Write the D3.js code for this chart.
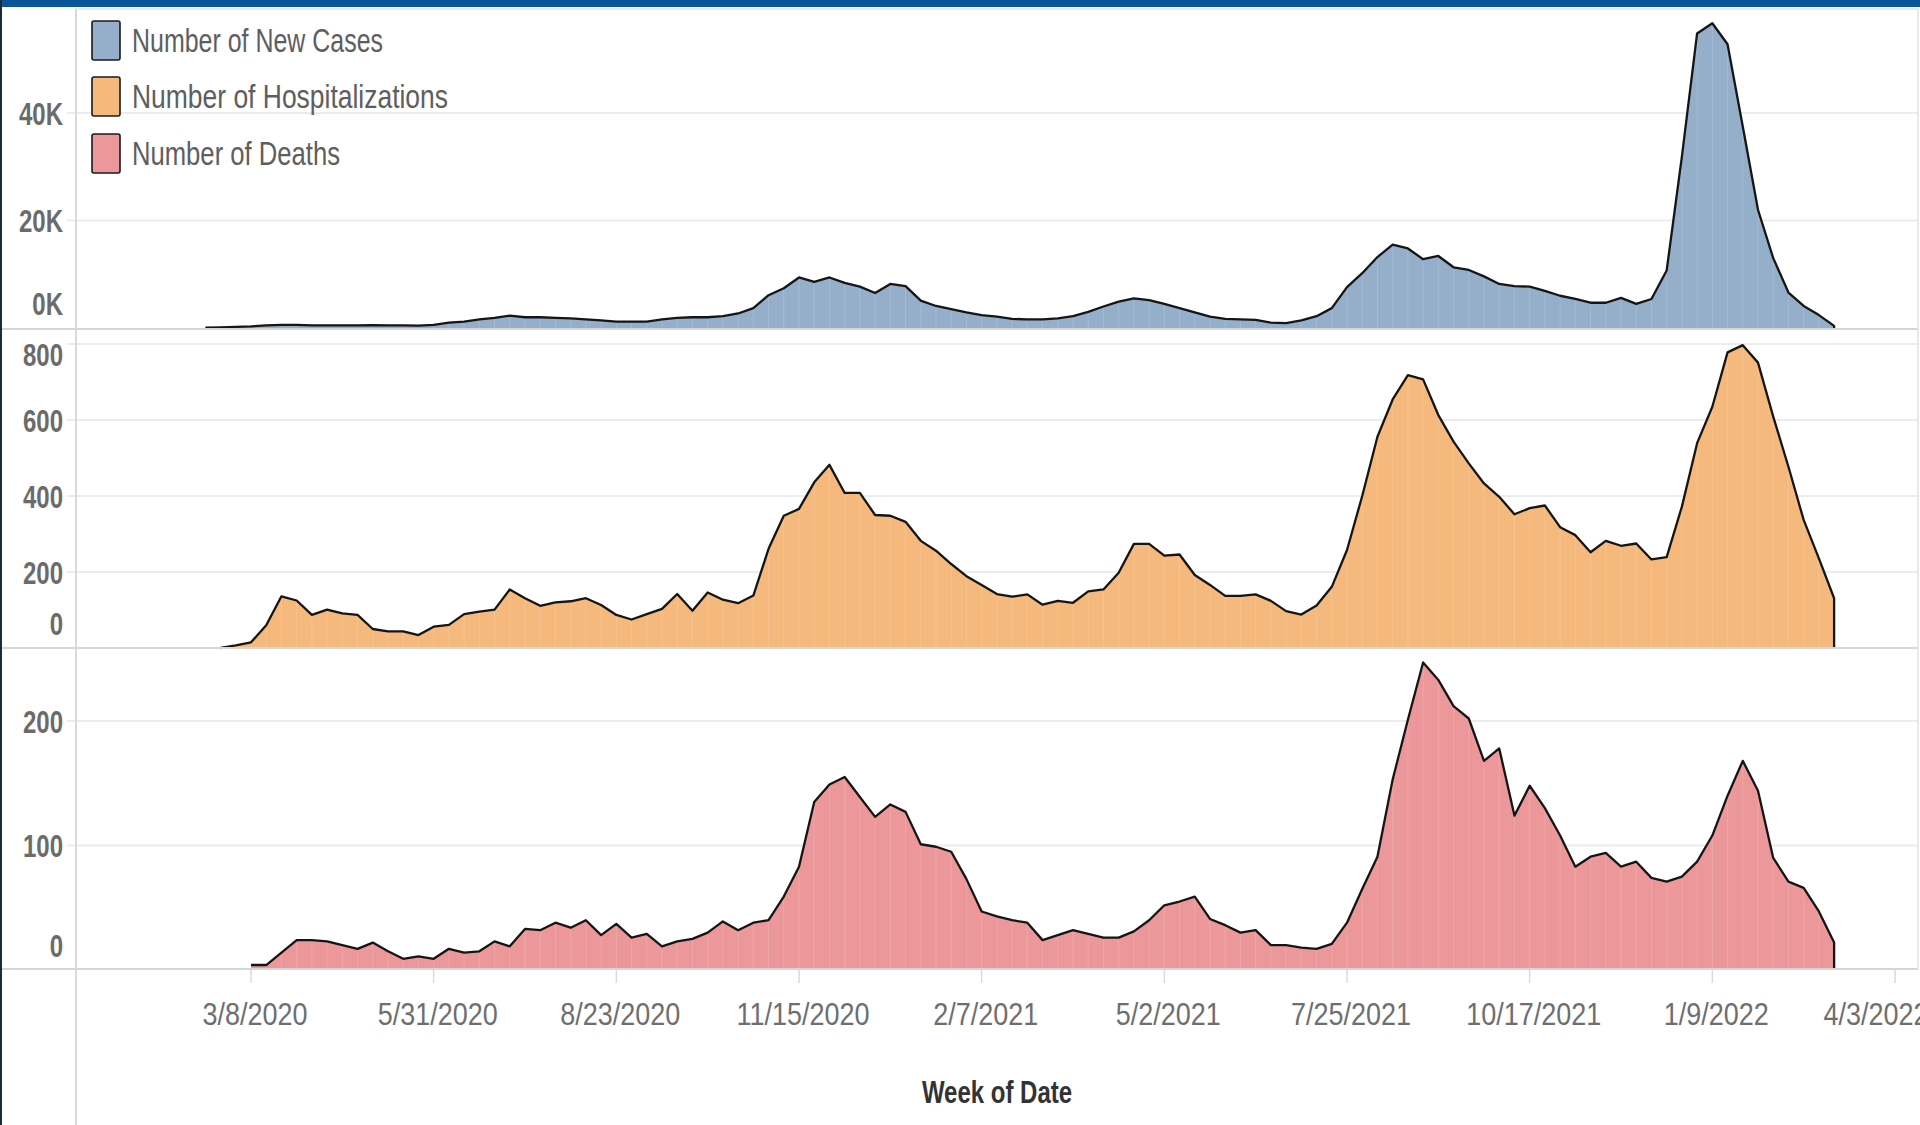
<!DOCTYPE html>
<html><head><meta charset="utf-8">
<script src="https://cdn.jsdelivr.net/npm/d3@7"></script>
<style>html,body{margin:0;padding:0;background:#fff;overflow:hidden}svg{display:block}</style>
</head><body>
<svg id="c" width="1920" height="1125"></svg>
<script>
// ---------- data ----------
const weekStart = "2020-02-16";
const weekEnd = "2022-03-06";
const seriesNames = ["Number of New Cases", "Number of Hospitalizations", "Number of Deaths"];
const seriesColors = ["#95afcb", "#f6b97d", "#ec989a"];

const cases = [50,100,200,300,500,600,600,500,500,500,500,550,500,500,450,600,1000,1200,1600,1900,2300,2000,2000,1900,1800,1600,1400,1200,1200,1200,1600,1900,2000,2000,2200,2700,3700,6100,7400,9400,8600,9400,8400,7700,6500,8200,7800,5100,4100,3500,2900,2400,2100,1700,1600,1600,1800,2200,3000,4000,4900,5500,5200,4500,3700,2900,2100,1700,1600,1500,1000,900,1400,2200,3700,7600,10200,13200,15500,14800,12800,13400,11300,10800,9600,8200,7800,7700,6900,6000,5400,4700,4700,5600,4500,5400,10700,31900,54800,56700,52800,37500,22000,13000,6600,4100,2400,400];

const hospitalizations = [null,0,7,15,60,136,125,87,101,91,87,50,44,44,34,56,61,89,96,101,154,131,111,120,123,131,113,87,75,89,103,142,98,146,127,118,138,261,348,366,436,482,408,408,350,348,332,282,256,221,189,166,142,135,141,114,124,119,149,154,198,274,274,243,246,192,166,137,137,141,124,97,88,112,161,258,400,556,654,718,707,613,543,486,433,398,352,368,375,318,297,252,282,269,275,233,239,372,539,635,778,797,751,609,477,337,236,131];

const deaths = [null,null,null,4,4,14,24,24,23,20,17,22,15,9,11,9,17,14,15,23,19,33,32,38,34,40,28,37,26,29,19,23,25,30,39,32,38,40,59,83,135,149,155,139,123,133,127,101,99,95,73,47,43,40,38,24,28,32,29,26,26,31,40,52,55,59,41,36,30,32,20,20,18,17,21,38,65,91,153,201,247,233,212,202,168,178,124,148,130,108,83,91,94,83,87,74,71,75,87,108,140,168,144,90,71,66,47,22];

const xTickLabels = ["3/8/2020","5/31/2020","8/23/2020","11/15/2020","2/7/2021","5/2/2021","7/25/2021","10/17/2021","1/9/2022","4/3/2022"];
const casesTicks = [0, 20000, 40000];
const casesTickLabels = ["0K", "20K", "40K"];
const hospTicks = [0, 200, 400, 600, 800];
const hospTickLabels = ["0", "200", "400", "600", "800"];
const deathTicks = [0, 100, 200];
const deathTickLabels = ["0", "100", "200"];
const xTitle = "Week of Date";

// ---------- setup ----------
const parse = d3.utcParse("%Y-%m-%d");
const parseTick = d3.utcParse("%m/%d/%Y");
const weeks = d3.utcSunday.range(parse(weekStart), d3.utcDay.offset(parse(weekEnd), 1));

const svg = d3.select("#c");
const W = 1920, H = 1125;
const plotL = 76, plotR = 1918;

const x = d3.scaleUtc().domain([parse("2020-03-08"), parse("2022-04-03")]).range([251, 1895]);

const panels = [
  { values: cases, color: seriesColors[0], top: 10, y: d3.scaleLinear().domain([0, 40000]).range([328, 113]), ticks: casesTicks, labels: casesTickLabels },
  { values: hospitalizations, color: seriesColors[1], top: 329, y: d3.scaleLinear().domain([0, 800]).range([648, 344]), ticks: hospTicks, labels: hospTickLabels },
  { values: deaths, color: seriesColors[2], top: 648, y: d3.scaleLinear().domain([0, 200]).range([970, 721]), ticks: deathTicks, labels: deathTickLabels }
];

function txt(parent, px, py, s, o) {
  const t = parent.append("text")
    .attr("transform", `translate(${px},${py}) scale(${o.sx || 1},1)`)
    .attr("text-anchor", o.anchor || "start")
    .attr("font-family", o.ff || "'Liberation Sans', Arial, sans-serif")
    .attr("font-size", o.fs)
    .attr("font-weight", o.fw || "normal")
    .attr("fill", o.fill || "#555")
    .text(s);
  if (o.len) t.attr("textLength", o.len).attr("lengthAdjust", "spacingAndGlyphs");
  return t;
}

svg.append("rect").attr("width", W).attr("height", H).attr("fill", "#fff");

// gridlines
panels.forEach(p => {
  svg.append("g").selectAll("line").data(p.ticks.filter(t => t !== 0)).join("line")
    .attr("x1", 67).attr("x2", plotR)
    .attr("y1", d => p.y(d)).attr("y2", d => p.y(d))
    .attr("stroke", "#ececec").attr("stroke-width", 2);
});

// areas + lines
panels.forEach(p => {
  const zero = p.y(0);
  const pts = weeks.map((d, i) => ({ date: d, v: p.values[i] }));
  const area = d3.area().defined(d => d.v != null)
    .x(d => x(d.date)).y0(zero).y1(d => p.y(d.v));
  svg.append("path").datum(pts).attr("d", area).attr("fill", p.color);

  // faint seams at weekly points
  svg.append("g").selectAll("line").data(pts.filter(d => d.v != null && d.v > 0)).join("line")
    .attr("x1", d => x(d.date)).attr("x2", d => x(d.date))
    .attr("y1", zero).attr("y2", d => p.y(d.v) + 2)
    .attr("stroke", "#ffffff").attr("stroke-opacity", 0.14).attr("stroke-width", 1);

  const valid = pts.filter(d => d.v != null);
  const last = valid[valid.length - 1];
  const linePts = valid.concat([{ date: last.date, v: 0 }]);
  const line = d3.line().x(d => x(d.date)).y(d => p.y(d.v));
  svg.append("path").datum(linePts).attr("d", line)
    .attr("fill", "none").attr("stroke", "#151515").attr("stroke-width", 2.3)
    .attr("stroke-linejoin", "round");
});

// frame lines
svg.append("rect").attr("x", 0).attr("y", 0).attr("width", W).attr("height", 7).attr("fill", "#0a5497");
svg.append("line").attr("x1", plotL).attr("x2", plotR).attr("y1", 9).attr("y2", 9).attr("stroke", "#e6e6e6").attr("stroke-width", 1.5);
[329, 648, 969].forEach(yy => {
  svg.append("line").attr("x1", 0).attr("x2", plotR).attr("y1", yy).attr("y2", yy)
    .attr("stroke", "#d6d6d6").attr("stroke-width", 2);
});
svg.append("line").attr("x1", plotL).attr("x2", plotL).attr("y1", 9).attr("y2", H)
  .attr("stroke", "#d9d9d9").attr("stroke-width", 2);
svg.append("line").attr("x1", plotR).attr("x2", plotR).attr("y1", 9).attr("y2", 969)
  .attr("stroke", "#e2e2e2").attr("stroke-width", 1.5);
svg.append("rect").attr("x", 0).attr("y", 0).attr("width", 2).attr("height", H).attr("fill", "#1d2a38");

// y tick labels
panels.forEach(p => {
  const zero = p.y(0);
  p.ticks.forEach((t, i) => {
    let cy = p.y(t);
    cy = Math.max(p.top + 25, Math.min(zero - 25, cy));
    txt(svg, 63, cy + 11.5, p.labels[i], { fs: 32, fw: "bold", fill: "#6b6b6b", anchor: "end", sx: 0.75 });
  });
});

// x axis ticks and labels
const xTicks = xTickLabels.map(parseTick);
svg.append("g").selectAll("line").data(xTicks).join("line")
  .attr("x1", d => x(d)).attr("x2", d => x(d))
  .attr("y1", 970).attr("y2", 983)
  .attr("stroke", "#dadada").attr("stroke-width", 1.5);
xTicks.forEach((d, i) => {
  const cx = Math.min(x(d) + 4, 1876);
  txt(svg, cx, 1025, xTickLabels[i], { fs: 31, fill: "#6e6e6e", anchor: "middle", sx: 0.87 });
});
txt(svg, 997, 1103, xTitle, { fs: 32, fw: "bold", fill: "#333", anchor: "middle", sx: 0.75 });

// legend
const legY = [21, 77, 134];
const legBase = [52, 108, 165];
const legLen = [251, 316, 208];
seriesNames.forEach((n, i) => {
  svg.append("rect").attr("x", 92).attr("y", legY[i]).attr("width", 28).attr("height", 39)
    .attr("rx", 2).attr("fill", seriesColors[i]).attr("stroke", "#1a1a1a").attr("stroke-width", 1.6);
  txt(svg, 132, legBase[i], n, { fs: 33, fill: "#5e5e5e", len: legLen[i] });
});
</script>
</body></html>
